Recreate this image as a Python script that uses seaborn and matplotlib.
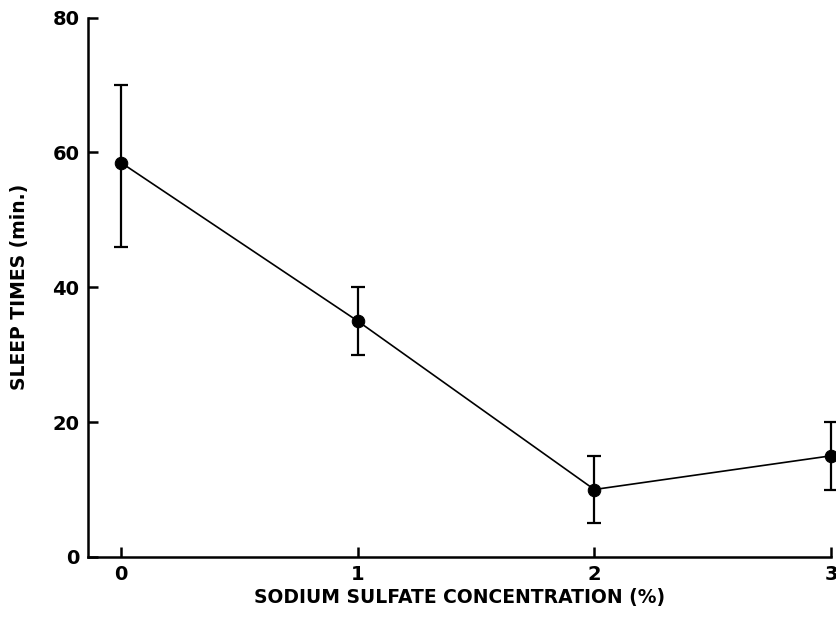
import matplotlib
matplotlib.use("Agg")
import matplotlib.pyplot as plt
import seaborn as sns
import pandas as pd
import numpy as np

concentration = [0, 1, 2, 3]
sleep_time = [58.5, 35.0, 10.0, 15.0]
err_low = [46.0, 30.0, 5.0, 10.0]
err_high = [70.0, 40.0, 15.0, 20.0]
x_ticks = [0, 1, 2, 3]
y_ticks = [0, 20, 40, 60, 80]

sns.set_style("ticks", {"xtick.direction": "in", "ytick.direction": "in"})
plt.rcParams['font.family'] = ['DejaVu Sans']
plt.rcParams['xtick.direction'] = 'in'
plt.rcParams['ytick.direction'] = 'in'

df = pd.DataFrame({"conc": concentration, "sleep": sleep_time})

fig = plt.figure(figsize=(8.36, 6.3), dpi=100)
ax = fig.add_axes([0.105, 0.116, 0.889, 0.856])

y = np.array(sleep_time)
yerr = np.vstack([y - np.array(err_low), np.array(err_high) - y])
ax.errorbar(concentration, sleep_time, yerr=yerr, fmt='none', ecolor='black',
            elinewidth=1.6, capsize=5, capthick=1.6, zorder=2, clip_on=False)
sns.lineplot(data=df, x="conc", y="sleep", ax=ax, color='black', linewidth=1.2,
             marker='o', markersize=9, markeredgecolor='black', zorder=3, clip_on=False)

ax.set_xlim(-0.14, 3.0)
ax.set_ylim(0, 80)
ax.set_xticks(x_ticks)
ax.set_xticklabels([str(t) for t in x_ticks])
ax.set_yticks(y_ticks)
ax.set_yticklabels([str(t) for t in y_ticks])
ax.tick_params(direction='in', length=7, width=1.8, labelsize=14,
               colors='black', labelcolor='black')
ax.tick_params(axis='x', pad=6)
ax.tick_params(axis='y', pad=6)
for lab in ax.get_xticklabels() + ax.get_yticklabels():
    lab.set_fontweight('bold')

sns.despine(ax=ax)
for s in ['left', 'bottom']:
    ax.spines[s].set_linewidth(1.8)
    ax.spines[s].set_color('black')

ax.set_xlabel("SODIUM SULFATE CONCENTRATION (%)", fontsize=13.5, fontweight='bold', color='black')
ax.set_ylabel("SLEEP TIMES (min.)", fontsize=13.5, fontweight='bold', color='black')
ax.xaxis.set_label_coords(0.5, -0.076)
ax.yaxis.set_label_coords(-0.092, 0.5)
ax.xaxis.label.set_va('center')
ax.yaxis.label.set_va('center')

fig.savefig("out.png", dpi=100)
